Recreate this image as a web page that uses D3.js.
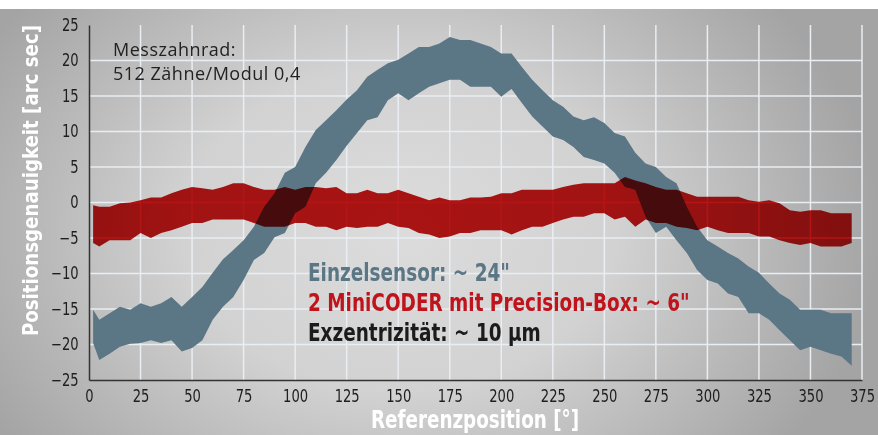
<!DOCTYPE html>
<html>
<head>
<meta charset="utf-8">
<script src="https://cdn.jsdelivr.net/npm/d3@7"></script>
<style>
  html, body { margin: 0; padding: 0; background: #fff; }
  svg { display: block; }
  .cond { font-family: 'Liberation Sans Narrow', 'DejaVu Sans Condensed', 'Arial Narrow', sans-serif; }
</style>
</head>
<body>
<svg id="chart" width="878" height="435"></svg>
<script>
// positions in degrees
const positions = [2, 5, 10, 15, 20, 25, 30, 35, 40, 45, 50, 55, 60, 65, 70, 75, 80, 85, 90, 95,
  100, 105, 110, 115, 120, 125, 130, 135, 140, 145, 150, 155, 160, 165, 170, 175, 180, 185, 190, 195,
  200, 205, 210, 215, 220, 225, 230, 235, 240, 245, 250, 255, 260, 265, 270, 275, 280, 285, 290, 295,
  300, 305, 310, 315, 320, 325, 330, 335, 340, 345, 350, 355, 360, 365, 370];

// Einzelsensor band, upper / lower edge [arc sec]
const singleUpper = [-15.1, -16.5, -15.6, -14.7, -15.1, -14.2, -14.7, -14.2, -13.3, -14.7, -13.3, -11.9, -9.9, -8.0, -6.7, -5.3, -3.4, -0.6, 1.3, 4.2,
  5.0, 7.8, 10.2, 11.6, 13.0, 14.5, 15.8, 17.7, 18.7, 19.6, 20.1, 21.0, 21.9, 21.9, 22.4, 23.3, 22.9, 22.9, 22.4, 21.9,
  21.0, 21.0, 19.1, 17.3, 15.8, 14.4, 13.5, 12.1, 11.6, 12.0, 11.2, 9.8, 9.3, 7.0, 5.5, 5.0, 3.6, 2.7, -0.6, -3.4,
  -5.3, -6.2, -7.1, -7.9, -9.0, -9.9, -11.4, -12.8, -13.7, -15.1, -15.1, -15.1, -15.6, -15.6, -15.6];
const singleLower = [-19.8, -22.2, -21.3, -20.3, -19.9, -19.8, -19.4, -19.8, -19.4, -21.0, -20.5, -19.4, -16.5, -14.7, -13.3, -10.9, -8.1, -7.1, -4.9, -4.3,
  -1.5, -0.6, 2.7, 4.2, 6.0, 8.0, 9.8, 11.6, 12.0, 14.4, 15.4, 14.4, 15.4, 16.3, 16.8, 17.3, 17.3, 16.3, 16.3, 16.3,
  14.9, 16.0, 14.0, 12.1, 10.7, 9.3, 8.8, 7.8, 6.4, 6.0, 5.5, 4.2, 2.2, 1.8, -2.0, -4.3, -3.4, -5.3, -7.1, -9.5,
  -10.9, -11.4, -12.8, -13.3, -15.6, -15.6, -16.5, -18.0, -19.4, -20.8, -20.3, -20.8, -21.3, -21.7, -23.0];

// 2 MiniCODER mit Precision-Box band, upper / lower edge [arc sec]
const dualUpper = [-0.4, -0.6, -0.6, -0.1, 0.0, 0.3, 0.7, 0.7, 1.3, 1.8, 2.2, 2.0, 1.8, 2.2, 2.7, 2.7, 2.2, 1.8, 1.8, 2.2,
  1.8, 2.2, 2.2, 2.0, 2.2, 1.3, 1.3, 1.8, 1.3, 1.3, 1.8, 1.3, 0.8, 0.3, 0.7, 0.3, 0.3, 0.7, 0.7, 0.8,
  1.3, 1.3, 1.8, 1.8, 1.8, 1.8, 2.2, 2.5, 2.7, 2.7, 2.7, 2.7, 3.6, 3.1, 2.7, 2.2, 1.8, 1.8, 1.3, 0.8,
  0.8, 0.8, 0.8, 0.8, 0.3, 0.1, 0.3, -0.1, -1.1, -1.3, -1.1, -1.1, -1.5, -1.5, -1.5];
const dualLower = [-5.7, -6.2, -5.3, -5.3, -5.3, -4.3, -5.0, -4.3, -3.9, -3.4, -2.9, -2.9, -2.4, -2.4, -2.4, -2.4, -2.9, -3.4, -3.4, -3.4,
  -2.9, -2.9, -3.4, -3.4, -3.9, -3.4, -3.6, -3.4, -3.4, -2.9, -3.4, -3.6, -4.3, -4.5, -5.0, -4.8, -4.3, -4.3, -3.9, -3.9,
  -3.9, -4.5, -3.9, -3.4, -3.4, -2.9, -2.4, -2.0, -2.0, -1.5, -1.5, -2.4, -2.0, -3.4, -2.4, -2.9, -2.9, -3.4, -3.6, -3.9,
  -3.4, -3.9, -4.3, -4.3, -4.3, -4.8, -4.8, -5.3, -5.7, -6.0, -5.7, -6.2, -6.2, -6.2, -5.7];

const xTicks = [0, 25, 50, 75, 100, 125, 150, 175, 200, 225, 250, 275, 300, 325, 350, 375];
const yTicks = [-25, -20, -15, -10, -5, 0, 5, 10, 15, 20, 25];

const noteLines = ['Messzahnrad:', '512 Zähne/Modul 0,4'];
const legendLines = [
  { text: 'Einzelsensor: ~ 24"', color: '#5b7684' },
  { text: '2 MiniCODER mit Precision-Box: ~ 6"', color: '#c0141c' },
  { text: 'Exzentrizität: ~ 10 µm', color: '#1b1b1b' }
];

const svg = d3.select('#chart');
const W = +svg.attr('width');
const H = +svg.attr('height');
const margin = { top: 25, right: 16, bottom: 55, left: 89 };
const width = 862 - margin.left;
const height = 380 - margin.top;
const squeeze = 0.86; // narrow the fallback font to a condensed look

// background
const defs = svg.append('defs');
const grad = defs.append('radialGradient')
  .attr('id', 'bg')
  .attr('gradientUnits', 'userSpaceOnUse')
  .attr('cx', 400).attr('cy', 230).attr('r', 480)
  .attr('gradientTransform', 'translate(400,230) scale(1,0.75) translate(-400,-230)');
grad.append('stop').attr('offset', 0).attr('stop-color', '#dcdcdc');
grad.append('stop').attr('offset', 0.45).attr('stop-color', '#d2d2d2');
grad.append('stop').attr('offset', 1).attr('stop-color', '#a4a4a4');

svg.append('rect').attr('width', W).attr('height', H).attr('fill', '#fff');
svg.append('rect').attr('y', 9).attr('width', W).attr('height', H - 9).attr('fill', 'url(#bg)');

const g = svg.append('g')
  .attr('transform', `translate(${margin.left},${margin.top})`);

const x = d3.scaleLinear().domain([0, 375]).range([0, width]);
const y = d3.scaleLinear().domain([-25, 25]).range([height, 0]);

// grid
g.append('g')
  .selectAll('line')
  .data(yTicks.filter(t => t > -25 && t < 25))
  .enter()
  .append('line')
    .attr('x1', 0).attr('x2', width)
    .attr('y1', d => y(d)).attr('y2', d => y(d))
    .attr('stroke', '#e9eef2')
    .attr('stroke-width', 1.5);

g.append('g')
  .selectAll('line')
  .data(xTicks.filter(t => t > 0))
  .enter()
  .append('line')
    .attr('x1', d => x(d)).attr('x2', d => x(d))
    .attr('y1', 0).attr('y2', height)
    .attr('stroke', '#e9eef2')
    .attr('stroke-width', 1.5);

// bands
const rows = positions.map((p, i) => ({
  p,
  su: singleUpper[i], sl: singleLower[i],
  du: dualUpper[i], dl: dualLower[i]
}));

g.append('path')
  .datum(rows)
  .attr('fill', '#5b7684')
  .attr('d', d3.area()
    .x(d => x(d.p))
    .y0(d => y(d.sl))
    .y1(d => y(d.su)));

g.append('path')
  .datum(rows)
  .attr('fill', '#c41616')
  .style('mix-blend-mode', 'multiply')
  .attr('d', d3.area()
    .x(d => x(d.p))
    .y0(d => y(d.dl))
    .y1(d => y(d.du)));

// axes
const yAxis = g.append('g')
  .attr('class', 'cond')
  .call(d3.axisLeft(y).tickValues(yTicks).tickSize(0).tickPadding(10));
yAxis.select('.domain').attr('stroke', '#333').attr('stroke-width', 1.5);
yAxis.selectAll('text')
  .attr('x', -12)
  .attr('transform', `scale(${squeeze},1)`)
  .attr('fill', '#1e1e1e')
  .style('font-size', '17px');

const xAxis = g.append('g')
  .attr('class', 'cond')
  .attr('transform', `translate(0,${height})`)
  .call(d3.axisBottom(x).tickValues(xTicks).tickSize(0).tickPadding(10));
xAxis.select('.domain').attr('stroke', '#333').attr('stroke-width', 1.5);
xAxis.selectAll('text')
  .attr('transform', `scale(${squeeze},1)`)
  .attr('fill', '#1e1e1e')
  .style('font-size', '17px');

// axis titles
svg.append('text')
  .attr('class', 'cond')
  .attr('transform', `translate(38,${margin.top + height / 2 - 22})rotate(-90)scale(0.92,1)`)
  .attr('text-anchor', 'middle')
  .attr('fill', '#fff')
  .style('font-size', '22px')
  .style('font-weight', 'bold')
  .text('Positionsgenauigkeit [arc sec]');

svg.append('text')
  .attr('class', 'cond')
  .attr('transform', `translate(475,428)scale(0.85,1)`)
  .attr('text-anchor', 'middle')
  .attr('fill', '#fff')
  .style('font-size', '24px')
  .style('font-weight', 'bold')
  .text('Referenzposition [°]');

// note
svg.append('g')
  .selectAll('text')
  .data(noteLines)
  .enter()
  .append('text')
    .attr('x', 113)
    .attr('y', (d, i) => 56 + i * 24)
    .attr('fill', '#222')
    .style('font-family', "'Open Sans', sans-serif")
    .style('font-size', '18px')
    .style('letter-spacing', '0.5px')
    .text(d => d);

// legend text
svg.append('g')
  .selectAll('text')
  .data(legendLines)
  .enter()
  .append('text')
    .attr('class', 'cond')
    .attr('transform', (d, i) => `translate(308,${281 + i * 30})scale(0.82,1)`)
    .attr('fill', d => d.color)
    .style('font-size', '25px')
    .style('font-weight', 'bold')
    .text(d => d.text);
</script>
</body>
</html>
